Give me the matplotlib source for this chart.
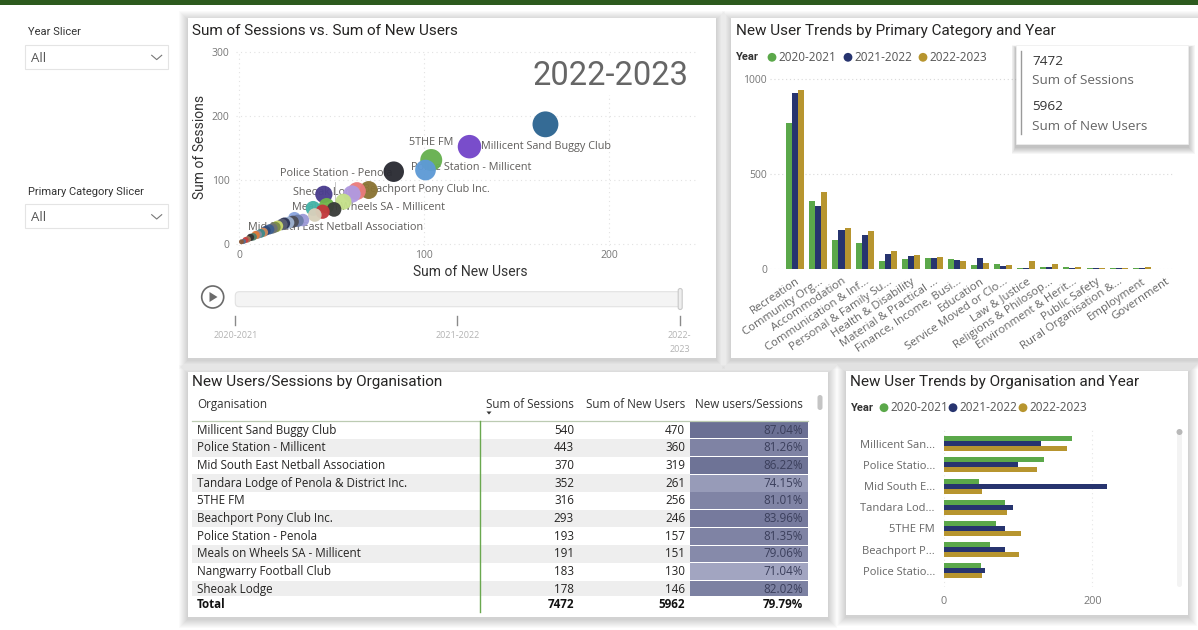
import matplotlib
matplotlib.use("Agg")
import matplotlib.pyplot as plt
from matplotlib.patches import Rectangle, FancyBboxPatch, Circle, Polygon
import numpy as np

# ---------------- data ----------------
years = ["2020-2021", "2021-2022", "2022-2023"]
year_colors = ["#5ba84a", "#27346f", "#b7952f"]

categories = ["Recreation", "Community Org...", "Accommodation", "Communication & Inf...",
              "Personal & Family Su...", "Health & Disability", "Material & Practical ...",
              "Finance, Income, Busi...", "Education", "Service Moved or Clo...",
              "Law & Justice", "Religions & Philosop...", "Environment & Herit...",
              "Public Safety", "Rural Organisation &...", "Employment", "Government"]
cat_new_2020 = [771, 357, 155, 139, 42, 53, 58, 51, 21, 25, 7, 9, 10, 5, 3, 3, 2]
cat_new_2021 = [929, 334, 204, 179, 77, 70, 58, 47, 56, 14, 7, 9, 7, 7, 4, 4, 1]
cat_new_2022 = [942, 406, 214, 200, 97, 76, 63, 44, 32, 19, 44, 25, 9, 5, 5, 8, 2]

org_short = ["Millicent San...", "Police Statio...", "Mid South E...", "Tandara Lod...",
             "5THE FM", "Beachport P...", "Police Statio..."]
org_new_2020 = [172, 135, 48, 83, 70, 62, 50]
org_new_2021 = [131, 100, 220, 93, 82, 82, 55]
org_new_2022 = [166, 125, 51, 85, 104, 101, 52]

table_orgs = ["Millicent Sand Buggy Club", "Police Station - Millicent",
              "Mid South East Netball Association", "Tandara Lodge of Penola & District Inc.",
              "5THE FM", "Beachport Pony Club Inc.", "Police Station - Penola",
              "Meals on Wheels SA - Millicent", "Nangwarry Football Club", "Sheoak Lodge"]
table_sessions = [540, 443, 370, 352, 316, 293, 193, 191, 183, 178]
table_new_users = [470, 360, 319, 261, 256, 246, 157, 151, 130, 146]
total_sessions = 7472
total_new_users = 5962

scatter_year = "2022-2023"
bubble_new_users = [165.6, 124.5, 103.8, 100.7, 83.5, 70.0, 63.6, 60.9, 45.7, 56.3,
                    51.2, 47.2, 45.0, 39.9, 40.8, 34.4, 29.8, 28.9, 24.3, 20.7,
                    17.9, 14.3, 11.5, 8.8, 6.0, 3.3, 1.1,
                    2.2, 4.5, 7.4, 9.9, 13.0, 16.2, 19.4, 23.0, 26.5, 31.5]
bubble_sessions = [187.1, 152.1, 131.2, 115.5, 112.9, 84.2, 82.6, 77.9, 77.4, 65.9,
                   53.8, 59.6, 50.2, 55.4, 45.0, 37.1, 39.7, 34.5, 31.9, 27.7,
                   24.0, 20.4, 16.2, 13.6, 9.9, 5.8, 3.1,
                   3.5, 6.9, 10.8, 14.4, 17.9, 22.5, 26.0, 30.2, 33.0, 36.0]
bubble_colors = ["#2d6591", "#7446c9", "#66b04f", "#5e9ad6", "#2a2b33", "#8b7434",
                 "#ea7c7c", "#b09ae0", "#4b3d8f", "#c5e08a", "#3a3d3a", "#6fb54a",
                 "#c2383c", "#45b3a8", "#d8d0bb", "#9d9bd8", "#8aa5de", "#4d4e57",
                 "#2d3454", "#c9d86a", "#6e7274", "#2e4a7a", "#3e8a8c", "#e07b39",
                 "#333333", "#c84040", "#8a5a3a",
                 "#5a6e8c", "#a0785a", "#4f7f6a", "#8c8c9c", "#d08a5c", "#3f5f8f",
                 "#7a8a4a", "#595e73", "#9fb3d1", "#6c7da8"]
bubble_label_text = ["5THE FM", "Millicent Sand Buggy Club", "Police Station - Millicent",
                     "Police Station - Penola", "Sheoak Lodge", "Beachport Pony Club Inc.",
                     "Meals on Wheels SA - Millicent", "Mid South East Netball Association"]
timeline_years = ["2020-2021", "2021-2022", "2022-\n2023"]

# ---------------- figure ----------------
W, H = 1198, 630
fig = plt.figure(figsize=(W / 100, H / 100), dpi=100)
fig.patch.set_facecolor("white")
BODY = ["Open Sans", "DejaVu Sans"]
TITLE = ["Roboto", "DejaVu Sans"]
plt.rcParams["font.family"] = BODY

bg = fig.add_axes([0, 0, 1, 1], zorder=0)
bg.set_xlim(0, W)
bg.set_ylim(H, 0)
bg.axis("off")


def ax_box(left, right, top, bottom, z=2):
    a = fig.add_axes([left / W, 1 - bottom / H, (right - left) / W, (bottom - top) / H], zorder=z)
    a.set_facecolor("none")
    for s in a.spines.values():
        s.set_visible(False)
    return a


def card(ax, x0, y0, x1, y1, n=9, a=0.02, dy=2, z=1):
    for i in range(n, 0, -1):
        ax.add_patch(Rectangle((x0 - i, y0 - i + dy), x1 - x0 + 2 * i, y1 - y0 + 2 * i,
                               fc="black", ec="none", alpha=a, zorder=z))
    ax.add_patch(Rectangle((x0, y0), x1 - x0, y1 - y0, fc="white", ec="none", zorder=z + 0.5))


# top band
bg.add_patch(Rectangle((0, 0), W, 4.5, fc="#2d5a1e", ec="none", zorder=5))

# slicers
for ty, label in [(32.3, "Year Slicer"), (191.7, "Primary Category Slicer")]:
    bg.text(27.7, ty, label, fontsize=8, color="#333333", va="center", family=TITLE)
    by = ty + 12.7
    bg.add_patch(Rectangle((25, by), 143.3, 24, fc="white", ec="#e4e4e4", lw=0.8, zorder=3))
    bg.text(30.7, by + 13, "All", fontsize=9.5, color="#555555", va="center", zorder=4)
    bg.plot([151.7, 156.7, 161.7], [by + 10.3, by + 14.6, by + 10.3], color="#777777", lw=0.8, zorder=4)

# cards
card(bg, 188, 18, 716, 358)
card(bg, 731, 18, 1198, 358)
card(bg, 188, 372, 828, 617)
card(bg, 846, 371, 1188, 615)

# ---------------- scatter ----------------
bg.text(192, 31, "Sum of Sessions vs. Sum of New Users", fontsize=11, color="#252423",
        va="center", family=TITLE, zorder=5)
sx = ax_box(235.7, 695.9, 51.0, 246.3)
sx.set_xlim(-2, 247)
sx.set_ylim(-4, 302)
sx.set_xticks([0, 100, 200])
sx.set_yticks([0, 100, 200, 300])
sx.tick_params(length=0, labelsize=7.5, labelcolor="#777777")
sx.tick_params(axis="y", pad=4.5)
sx.tick_params(axis="x", pad=2.7)
sx.grid(True, ls=(0, (1, 3)), color="#e2e2e2", lw=0.8)
sx.set_axisbelow(True)
sx.text(610.3, 75.7, scatter_year, transform=bg.transData, ha="center", va="center",
        fontsize=23.5, color="#666666", family=TITLE, zorder=1.5,
        bbox=dict(fc="white", ec="none", pad=2))
bub_y = np.array(bubble_sessions)
r_px = 0.88 * np.sqrt(bub_y) + 0.9
sizes = (2 * r_px * 0.72) ** 2
label_pos = [(92.0, 159.0), (130.9, 152.9), (92.9, 119.4), (22.1, 109.4),
             (29.2, 80.6), (66.9, 84.8), (28.5, 56.5), (4.75, 26.2)]
for txt, (lx, ly) in zip(bubble_label_text, label_pos):
    sx.text(lx, ly, txt, fontsize=7.8, color="#605e5c", va="center", ha="left", zorder=2)
sx.plot([51.7, 51.7], [58, 97], color="#bdbdbd", lw=0.6, zorder=2)
order = np.argsort(-bub_y)
sx.scatter(np.array(bubble_new_users)[order], bub_y[order], s=sizes[order],
           c=np.array(bubble_colors)[order], edgecolors="none", alpha=0.96, zorder=3, clip_on=False)
bg.text(470, 271.7, "Sum of New Users", fontsize=10, color="#333333", ha="center", va="center",
        family=TITLE, zorder=5)
bg.text(199.5, 147, "Sum of Sessions", fontsize=10, color="#333333", ha="center", va="center",
        rotation=90, family=TITLE, zorder=5)
# play axis
bg.add_patch(Circle((212.7, 297), 11, fc="white", ec="#6b6b6b", lw=1.2, zorder=5))
bg.add_patch(Polygon([[209.5, 292], [209.5, 302], [217.5, 297]], closed=True, fc="#6b6b6b", ec="none", zorder=6))
bg.add_patch(FancyBboxPatch((235.3, 291.7), 445.7, 15, boxstyle="round,pad=0,rounding_size=4",
                            fc="#f4f4f4", ec="#e2e2e2", lw=0.8, zorder=5))
bg.add_patch(FancyBboxPatch((678.2, 288.5), 4, 21, boxstyle="round,pad=0,rounding_size=2",
                            fc="#eeeeee", ec="#c9c9c9", lw=0.8, zorder=6))
for tx, lab in zip([235.3, 457.3, 679.5], timeline_years):
    bg.plot([tx, tx], [316, 325], color="#8a8a8a", lw=1, zorder=5)
    bg.text(tx, 336 if "\n" not in lab else 342.5, lab, fontsize=6.5, color="#b3b3b3",
            ha="center", va="center", linespacing=1.6, zorder=5)

# ---------------- category bars ----------------
bg.text(736, 31, "New User Trends by Primary Category and Year", fontsize=11, color="#252423",
        va="center", family=TITLE, zorder=5)


def legend(x_year, y, xs_dot):
    bg.text(x_year, y, "Year", fontsize=8, color="#333333", weight="bold", va="center",
            family=TITLE, zorder=5)
    for yr, col, xd in zip(years, year_colors, xs_dot):
        bg.add_patch(Circle((xd, y), 4.4, fc=col, ec="none", zorder=5))
        bg.text(xd + 6.5, y, yr, fontsize=8.5, color="#555555", va="center", zorder=5)


legend(736, 57.3, [772, 848, 923])
bx = ax_box(769.9, 1174.1, 77.4, 269)
bx.set_xlim(-1.1, 16.4)
bx.set_ylim(0, 1010)
idx = np.arange(len(categories))
for k, vals in enumerate([cat_new_2020, cat_new_2021, cat_new_2022]):
    bx.bar(idx + (k - 1) * 0.26, vals, width=0.26, color=year_colors[k], zorder=3)
bx.set_yticks([0, 500, 1000])
bx.set_xticks(idx)
bx.set_xticklabels(categories, rotation=34, ha="right", va="top", rotation_mode="anchor",
                   fontsize=8.2, color="#666666")
bx.tick_params(axis="y", length=0, labelsize=7.5, labelcolor="#777777", pad=2)
bx.tick_params(axis="x", length=0, pad=5)
bx.yaxis.grid(True, ls=(0, (1, 2.5)), color="#d9d9d9", lw=0.8)
bx.set_axisbelow(True)

# ---------------- organisation bars ----------------
bg.text(850, 381.7, "New User Trends by Organisation and Year", fontsize=11, color="#252423",
        va="center", family=TITLE, zorder=5)
legend(850.7, 407.7, [884, 953, 1023])
hx = ax_box(943.7, 1173.4, 428, 586.7)
hx.set_xlim(0, 309)
hx.set_ylim(6.75, -0.74)
j = np.arange(len(org_short))
for k, vals in enumerate([org_new_2020, org_new_2021, org_new_2022]):
    hx.barh(j + (k - 1) * 0.235, vals, height=0.235, color=year_colors[k], zorder=3)
hx.set_yticks(j)
hx.set_yticklabels(org_short, fontsize=8, color="#666666")
hx.set_xticks([0, 200])
hx.tick_params(axis="y", length=0, pad=6.3)
hx.tick_params(axis="x", length=0, pad=7, labelsize=7.8, labelcolor="#777777")
hx.xaxis.grid(True, ls=(0, (1, 3)), color="#e6e6e6", lw=0.8)
hx.set_axisbelow(True)
bg.add_patch(FancyBboxPatch((1177, 430), 5, 157, boxstyle="round,pad=0,rounding_size=2.5",
                            fc="#f3f3f3", ec="none", zorder=5))
bg.add_patch(Circle((1179.5, 432), 3, fc="#b8b8b8", ec="none", zorder=6))

# ---------------- table ----------------
bg.text(192, 381.8, "New Users/Sessions by Organisation", fontsize=11, color="#252423",
        va="center", family=TITLE, zorder=5)
col_org_x, col_s_x, col_n_x, col_r_x = 197, 574, 685, 803
FS = 8.4
hy = 404.5
for x, t, ha in [(col_org_x, "Organisation", "left"), (col_s_x, "Sum of Sessions", "right"),
                 (col_n_x, "Sum of New Users", "right"), (col_r_x, "New users/Sessions", "right")]:
    bg.text(x, hy, t, fontsize=FS, color="#333333", ha=ha, va="center", zorder=5)
bg.add_patch(Polygon([[486.5, 411.5], [491.5, 411.5], [489, 414.5]], closed=True, fc="#333333",
                     ec="none", zorder=5))
bg.plot([192, 808], [420.5, 420.5], color="#bccbb2", lw=0.9, zorder=5)
bg.add_patch(FancyBboxPatch((817.5, 395), 5, 15, boxstyle="round,pad=0,rounding_size=2.5",
                            fc="#c4c4c4", ec="none", zorder=5))
ratios = np.array(table_new_users) / np.array(table_sessions)
rmin, rmax = ratios.min(), ratios.max()
c_lo = np.array([0xa2, 0xa5, 0xc1]) / 255
c_hi = np.array([0x6b, 0x70, 0x94]) / 255
row_h = 17.7
row_top = 421.2
for i, (org, s, n, r) in enumerate(zip(table_orgs, table_sessions, table_new_users, ratios)):
    y0 = row_top + i * row_h
    yc = y0 + row_h / 2
    if i % 2 == 1:
        bg.add_patch(Rectangle((192, y0), 498, row_h, fc="#eeeeee", ec="none", zorder=4))
    t = (r - rmin) / (rmax - rmin)
    col = c_lo + (c_hi - c_lo) * t
    bg.add_patch(Rectangle((690, y0 + 0.4), 118, row_h - 0.8, fc=col, ec="none", zorder=4))
    bg.text(col_org_x, yc, org, fontsize=FS, color="#252423", va="center", zorder=5)
    bg.text(col_s_x, yc, f"{s}", fontsize=FS, color="#252423", ha="right", va="center", zorder=5)
    bg.text(col_n_x, yc, f"{n}", fontsize=FS, color="#252423", ha="right", va="center", zorder=5)
    bg.text(col_r_x, yc, f"{r * 100:.2f}%", fontsize=FS, color="#3b3f5c", ha="right", va="center", zorder=5)
bg.add_patch(Rectangle((190, 596), 625, 20, fc="white", ec="none", zorder=6))
ty = 604.5
bg.text(col_org_x, ty, "Total", fontsize=FS, color="#111111", weight="bold", va="center", zorder=7)
bg.text(col_s_x, ty, f"{total_sessions}", fontsize=FS, color="#111111", weight="bold", ha="right", va="center", zorder=7)
bg.text(col_n_x, ty, f"{total_new_users}", fontsize=FS, color="#111111", weight="bold", ha="right", va="center", zorder=7)
bg.text(col_r_x, ty, f"{total_new_users / total_sessions * 100:.2f}%", fontsize=FS, color="#111111",
        weight="bold", ha="right", va="center", zorder=7)
bg.plot([479.8, 479.8], [421, 612], color="#6aa84f", lw=1, zorder=8)

# ---------------- tooltip overlay ----------------
fg = fig.add_axes([0, 0, 1, 1], zorder=20)
fg.set_xlim(0, W)
fg.set_ylim(H, 0)
fg.axis("off")
fg.patch.set_alpha(0)
for i in range(7, 0, -1):
    fg.add_patch(Rectangle((1016 - i * 0.6, 45 - i * 0.4 + 3), 172 + i * 1.6, 99 + i * 1.4,
                           fc="black", ec="none", alpha=0.035))
fg.add_patch(Rectangle((1016, 45), 172, 99, fc="white", ec="#eeeeee", lw=0.5))
fg.plot([1021, 1021], [51, 134], color="#9a9a9a", lw=1)
fg.text(1032, 61.7, f"{total_sessions}", fontsize=9.7, color="#333333", va="center")
fg.text(1032, 80.7, "Sum of Sessions", fontsize=9.7, color="#666666", va="center")
fg.text(1032, 107, f"{total_new_users}", fontsize=9.7, color="#333333", va="center")
fg.text(1032, 126, "Sum of New Users", fontsize=9.7, color="#666666", va="center")

fig.savefig("out.png", dpi=100, facecolor="white")
